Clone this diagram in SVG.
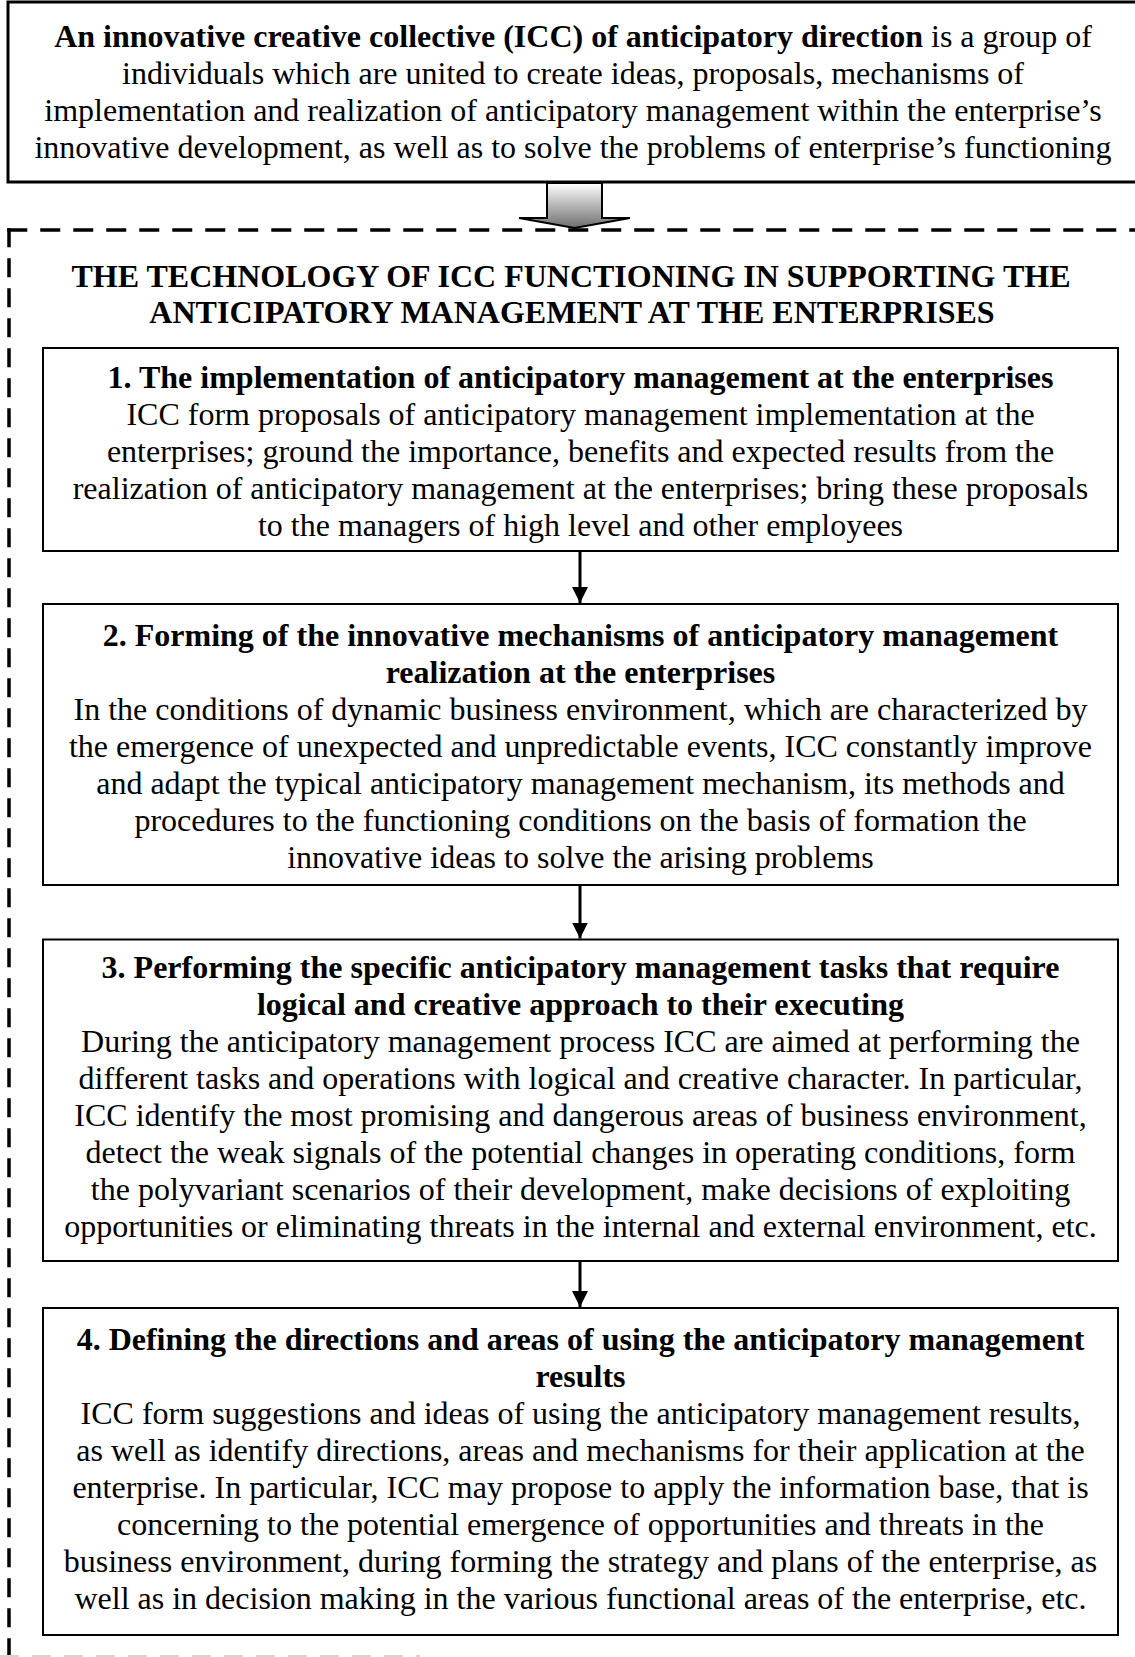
<svg xmlns="http://www.w3.org/2000/svg" width="1135" height="1657" viewBox="0 0 1135 1657">
<style>
text{font-family:"Liberation Serif","Times New Roman",serif;font-size:32px;fill:#000;text-anchor:middle}
.b{font-weight:bold}
.box{fill:#fff;stroke:#000;stroke-width:2}
.conn{stroke:#000;stroke-width:3;fill:none}
.dash{fill:none;stroke:#000;stroke-width:3.5}
</style>
<defs>
<linearGradient id="g" x1="0" y1="0" x2="0" y2="1">
<stop offset="0" stop-color="#ffffff"/>
<stop offset="1" stop-color="#6e6e6e"/>
</linearGradient>
<marker id="ah" viewBox="0 0 16 16" refX="16" refY="8" markerWidth="16" markerHeight="16" markerUnits="userSpaceOnUse" orient="auto">
<path d="M0,0 L16,8 L0,16 Z" fill="#000"/>
</marker>
</defs>
<g id="definition">
<rect x="8" y="2" width="1135" height="180" fill="#fff" stroke="#000" stroke-width="3"/>
<text x="573" y="47"><tspan class="b">An innovative creative collective (ICC) of anticipatory direction</tspan> is a group of</text>
<text x="573" y="84">individuals which are united to create ideas, proposals, mechanisms of</text>
<text x="573" y="121">implementation and realization of anticipatory management within the enterprise’s</text>
<text x="573" y="158">innovative development, as well as to solve the problems of enterprise’s functioning</text>
</g>
<g id="technology">
<path class="dash" d="M7.25,230 H1140" stroke-dasharray="20 13"/>
<path class="dash" d="M9,228.25 V1657" stroke-dasharray="19 11"/>
<path d="M0,1656 H420" fill="none" stroke="#d4d4d4" stroke-width="2" stroke-dasharray="19 13"/>
<text class="b" x="571" y="287">THE TECHNOLOGY OF ICC FUNCTIONING IN SUPPORTING THE</text>
<text class="b" x="572" y="323">ANTICIPATORY MANAGEMENT AT THE ENTERPRISES</text>
</g>
<g id="step1">
<rect class="box" x="43" y="348" width="1075" height="203"/>
<text class="b" x="580.5" y="387.5">1. The implementation of anticipatory management at the enterprises</text>
<text x="580.5" y="424.5">ICC form proposals of anticipatory management implementation at the</text>
<text x="580.5" y="461.5">enterprises; ground the importance, benefits and expected results from the</text>
<text x="580.5" y="498.5">realization of anticipatory management at the enterprises; bring these proposals</text>
<text x="580.5" y="535.5">to the managers of high level and other employees</text>
</g>
<g id="step2">
<rect class="box" x="43" y="604" width="1075" height="281"/>
<text class="b" x="580.5" y="645.5">2. Forming of the innovative mechanisms of anticipatory management</text>
<text class="b" x="580.5" y="682.5">realization at the enterprises</text>
<text x="580.5" y="719.5">In the conditions of dynamic business environment, which are characterized by</text>
<text x="580.5" y="756.5">the emergence of unexpected and unpredictable events, ICC constantly improve</text>
<text x="580.5" y="793.5">and adapt the typical anticipatory management mechanism, its methods and</text>
<text x="580.5" y="830.5">procedures to the functioning conditions on the basis of formation the</text>
<text x="580.5" y="867.5">innovative ideas to solve the arising problems</text>
</g>
<g id="step3">
<rect class="box" x="43" y="939.5" width="1075" height="321.5"/>
<text class="b" x="580.5" y="978">3. Performing the specific anticipatory management tasks that require</text>
<text class="b" x="580.5" y="1015">logical and creative approach to their executing</text>
<text x="580.5" y="1052">During the anticipatory management process ICC are aimed at performing the</text>
<text x="580.5" y="1089">different tasks and operations with logical and creative character. In particular,</text>
<text x="580.5" y="1126">ICC identify the most promising and dangerous areas of business environment,</text>
<text x="580.5" y="1163">detect the weak signals of the potential changes in operating conditions, form</text>
<text x="580.5" y="1200">the polyvariant scenarios of their development, make decisions of exploiting</text>
<text x="580.5" y="1237">opportunities or eliminating threats in the internal and external environment, etc.</text>
</g>
<g id="step4">
<rect class="box" x="43" y="1308" width="1075" height="327"/>
<text class="b" x="580.5" y="1349.5">4. Defining the directions and areas of using the anticipatory management</text>
<text class="b" x="580.5" y="1386.5">results</text>
<text x="580.5" y="1423.5">ICC form suggestions and ideas of using the anticipatory management results,</text>
<text x="580.5" y="1460.5">as well as identify directions, areas and mechanisms for their application at the</text>
<text x="580.5" y="1497.5">enterprise. In particular, ICC may propose to apply the information base, that is</text>
<text x="580.5" y="1534.5">concerning to the potential emergence of opportunities and threats in the</text>
<text x="580.5" y="1571.5">business environment, during forming the strategy and plans of the enterprise, as</text>
<text x="580.5" y="1608.5">well as in decision making in the various functional areas of the enterprise, etc.</text>
</g>
<g id="connectors">
<path d="M547,183 V218 H519 L574.5,228 L630,218 H602 V183 Z" fill="url(#g)" stroke="#000" stroke-width="2"/>
<path class="conn" d="M580,552 V603" marker-end="url(#ah)"/>
<path class="conn" d="M580,886 V938.5" marker-end="url(#ah)"/>
<path class="conn" d="M580,1262 V1307" marker-end="url(#ah)"/>
</g>
</svg>
